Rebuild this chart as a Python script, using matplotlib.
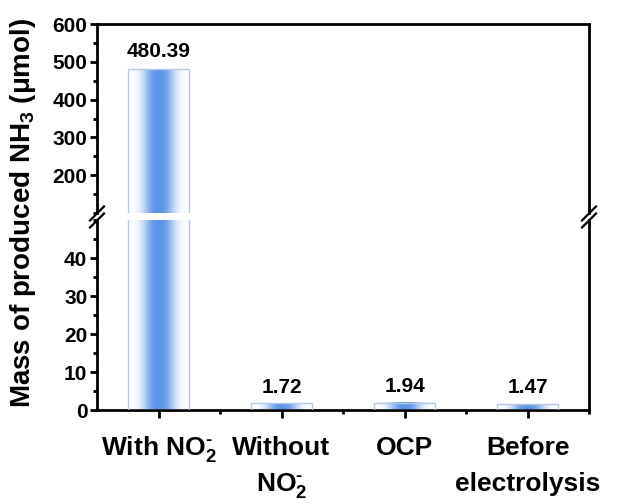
import numpy as np
import matplotlib
matplotlib.use("Agg")
import matplotlib.pyplot as plt
from matplotlib.ticker import MultipleLocator
from matplotlib.transforms import blended_transform_factory

plt.rcParams['font.family'] = ['Liberation Sans', 'DejaVu Sans']
plt.rcParams['font.weight'] = 'bold'
plt.rcParams['mathtext.fontset'] = 'custom'
plt.rcParams['mathtext.rm'] = 'Liberation Sans:bold'
plt.rcParams['mathtext.bf'] = 'Liberation Sans:bold'
plt.rcParams['mathtext.it'] = 'Liberation Sans:bold'

# data
categories = [r'With NO$_2^\text{-}$', 'Without\n' + r'NO$_2^\text{-}$', 'OCP', 'Before\nelectrolysis']
values = [480.39, 1.72, 1.94, 1.47]
value_labels = ['480.39', '1.72', '1.94', '1.47']

x = np.arange(len(values))
bar_w = 0.5
blue = np.array([0.36, 0.58, 0.91])

# horizontal gradient: white -> blue -> white
u = np.linspace(-1, 1, 200)
t = np.exp(-(np.abs(u) / 0.5) ** 2.5)
grad = np.ones((1, len(u), 3)) * (1 - t[None, :, None]) + blue[None, None, :] * t[None, :, None]

fig = plt.figure(figsize=(6.2, 5.04), dpi=100)
left, width = 97 / 620, 492 / 620
ax_top = fig.add_axes([left, 291 / 504, width, 189 / 504])
ax_bot = fig.add_axes([left, 94 / 504, width, 190 / 504])


def draw_bars(ax):
    bars = ax.bar(x, values, width=bar_w, facecolor='none',
                  edgecolor='#b3c9e8', linewidth=1.0, zorder=3)
    for b in bars:
        x0 = b.get_x()
        ax.imshow(grad, extent=[x0, x0 + bar_w, 0, b.get_height()],
                  aspect='auto', zorder=2, interpolation='bilinear')


draw_bars(ax_top)
draw_bars(ax_bot)

ax_top.set_ylim(100, 600)
ax_bot.set_ylim(0, 50)
for ax in (ax_top, ax_bot):
    ax.set_xlim(-0.5, 3.5)
    for s in ax.spines.values():
        s.set_linewidth(2.0)
    ax.tick_params(axis='y', which='major', direction='out', length=5, width=2,
                   labelsize=15, right=False, pad=2)
    ax.tick_params(axis='y', which='minor', direction='out', length=3, width=2, right=False)
    for lab in ax.get_yticklabels():
        lab.set_fontweight('bold')

ax_top.yaxis.set_minor_locator(MultipleLocator(50))
ax_top.set_yticks([200, 300, 400, 500, 600])
ax_bot.set_yticks([0, 10, 20, 30, 40])
ax_bot.yaxis.set_minor_locator(MultipleLocator(5))

ax_top.spines['bottom'].set_visible(False)
ax_top.tick_params(axis='x', which='both', bottom=False, top=False, labelbottom=False)
ax_bot.spines['top'].set_visible(False)

ax_bot.set_xticks(x)
ax_bot.set_xticks(x + 0.5, minor=True)
ax_bot.tick_params(axis='x', which='major', direction='out', length=6, width=2,
                   top=False, labelbottom=False)
ax_bot.tick_params(axis='x', which='minor', direction='out', length=3, width=2, top=False)

# category labels, line by line
trans = blended_transform_factory(ax_bot.transData, ax_bot.transAxes)
line_y = [-0.237, -0.426]
for xi, cat in zip(x, categories):
    for k, line in enumerate(cat.split('\n')):
        ax_bot.text(xi, line_y[k], line, transform=trans, ha='center', va='baseline',
                    fontsize=19, fontweight='bold')

# value labels
ax_top.annotate(value_labels[0], (x[0], values[0]), xytext=(0, 6), textcoords='offset points',
                ha='center', va='bottom', fontsize=15, fontweight='bold')
for i in range(1, len(values)):
    ax_bot.annotate(value_labels[i], (x[i], values[i]), xytext=(0, 5), textcoords='offset points',
                    ha='center', va='bottom', fontsize=15, fontweight='bold')

# break marks
yb = (504 - 217) / 504
for xs in (left, left + width):
    for dy in (-3.5, 3.5):
        fig.add_artist(plt.Line2D([xs - 7 / 620, xs + 7 / 620],
                                  [yb + (dy - 7) / 504, yb + (dy + 7) / 504],
                                  color='black', linewidth=1.6))

fig.text(23 / 620, (504 - 213) / 504, r'Mass of produced NH$_3$ (μmol)', rotation=90,
         ha='center', va='center', fontsize=20, fontweight='bold')

fig.savefig('out.png', dpi=100)
